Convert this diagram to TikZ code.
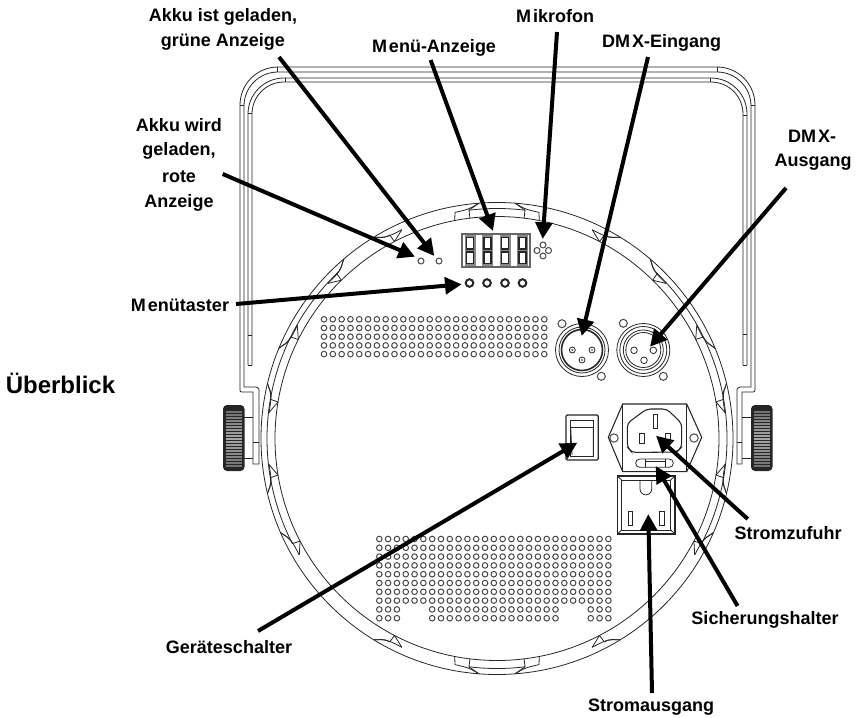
\documentclass[tikz,border=0pt]{standalone}
\usepackage{fontspec}
\setmainfont{Liberation Sans}
\usetikzlibrary{arrows.meta}
\definecolor{ink}{gray}{0.15}
\tikzset{
  x=0.75pt,y=-0.75pt,
  ln/.style={draw=ink,line width=0.6pt},
  hole/.style={draw=ink!85,line width=0.75pt},
  lab/.style={font=\bfseries\fontsize{13.5}{13.5}\selectfont,align=center,inner sep=0pt,text=black},
  pointer/.style={draw=black,line width=3pt,-{Triangle[length=12.5pt,width=12.5pt]}},
}
\newcommand{\htab}[2]{% angle, hook direction
  \pgfmathsetmacro{\aa}{#1}\pgfmathsetmacro{\ss}{#2}
  \pgfmathsetmacro{\pa}{\aa-0.5*\ss}\pgfmathsetmacro{\pb}{\aa-3.5*\ss}\pgfmathsetmacro{\pc}{\aa+3.5*\ss}\pgfmathsetmacro{\pd}{\aa+1*\ss}
  \draw[ln] (\pa:222) -- (\pb:229.5) (\pa:222) -- (\pa+0.3*\ss:230);
  \draw[ln] (\pb:229.5) .. controls (\pd:229) and (\pd:230) .. (\pc:236);
  \draw[ln] (\pa+0.3*\ss:230) .. controls (\pd+1*\ss:230) and (\pd+1*\ss:233) .. (\pc:236);
}
\newcommand{\bigtab}[1]{%
  \pgfmathsetmacro{\aa}{#1}
  \foreach \ss in {-1,1}{
    \draw[ln] (\aa+11*\ss:222) -- (\aa+10.5*\ss:230) .. controls (\aa+7*\ss:231) .. (\aa+4.4*\ss:236);
    \draw[ln] (\aa+7*\ss:222) -- (\aa+7*\ss:230) -- (\aa+4.4*\ss:236);
  }
  \draw[ln] (\aa-7:230) arc[start angle=\aa-7,end angle=\aa+7,radius=230];
}
\begin{document}
\begin{tikzpicture}
\useasboundingbox (0,0) rectangle (856,717);
% ---- bracket
\draw[ln,rounded corners=28.5pt] (240,388) -- (240,67) -- (755,67) -- (755,388);
\draw[ln,rounded corners=25.5pt] (244,387) -- (244,72) -- (751,72) -- (751,387);
\draw[ln,rounded corners=27pt] (248,365) -- (248,78) -- (747,78) -- (747,365);
\draw[ln,rounded corners=24pt] (252,365) -- (252,82) -- (743,82) -- (743,365);
\draw[ln] (248,365) -- (252,365) (248,335) -- (252,335) (743,365) -- (747,365) (743,334) -- (747,334);
\draw[ln] (240,105) -- (244,105) (751,105) -- (755,105) (248,113) -- (252,113) (743,115) -- (747,115) (277,67) -- (277,72) (285,78) -- (285,82) (717,67) -- (717,72) (710,78) -- (710,82);
% feet
\draw[ln] (240,388) .. controls (240,392) .. (244,392) -- (253,392) -- (253,464) -- (259,464) -- (259,392) .. controls (259,388) .. (256,387) -- (244,387);
\draw[ln] (253,442) -- (259,442);
\draw[ln] (755,388) .. controls (755,392) .. (751,392) -- (742,392) -- (742,464) -- (737,464) -- (737,392) .. controls (737,388) .. (740,387) -- (751,387);
\draw[ln] (737,442) -- (742,442);
% posts
\draw[ln] (253,417) -- (244,417) (244,458) -- (253,458);
\draw[ln] (742,417) -- (751,417) (751,458) -- (742,458);
% knobs
\foreach \kx in {223,751}{
  \fill[ink,rounded corners=3] (\kx,405) rectangle ++(21.5,66);
  \foreach \ky in {411,414,...,465}{
    \pgfmathsetmacro{\sh}{60-25*abs(\ky-438)/27}
    \fill[white!\sh!ink] (\kx+3,\ky) rectangle ++(15.5,1.6);
  }
}
% ---- ring
\begin{scope}[shift={(497,438.5)},x=0.75pt,y=0.75pt]
\draw[ln] (0,0) circle[radius=236];
\draw[ln] (0,0) circle[radius=222];
\foreach \st/\en in {134/154,154/170,170/190,190/207,-27/-10,-10/10,10/26,26/46}{
  \draw[ln] (\st:230) arc[start angle=\st,end angle=\en,radius=230];
}
\bigtab{90}
\bigtab{270}
\htab{118}{1}\htab{134}{-1}\htab{154}{1}\htab{170}{-1}\htab{190}{1}\htab{207}{-1}\htab{242}{-1}
\htab{62}{-1}\htab{46}{1}\htab{26}{-1}\htab{10}{1}\htab{-10}{-1}\htab{-27}{1}\htab{-62}{1}
\end{scope}
% ---- grilles
\foreach \i in {0,...,25}{\foreach \j in {0,...,4}{
  \draw[hole] (324+8.81*\i,319.3+8.7*\j) circle[radius=2.8];}}
\foreach \i in {0,...,26}{\foreach \j in {0,...,7}{
  \draw[hole] (379.3+8.81*\i,539+8.8*\j) circle[radius=2.8];}}
\foreach \i in {0,1,2,6,7,...,20,24,25,26}{\foreach \j in {8,9}{
  \draw[hole] (379.3+8.81*\i,539+8.8*\j) circle[radius=2.8];}}
% ---- display
\draw[draw=ink!70,line width=1.1pt] (462,234) rectangle (530,267);
\foreach \dx in {470,487.5,505,522.5}{
  \fill[ink!55] (\dx-5.5,235) rectangle (\dx+5.5,266);
  \draw[draw=ink,line width=1.1pt,fill=white] (\dx-3.5,237.5) rectangle (\dx+3.5,249);
  \draw[draw=ink,line width=1.1pt,fill=white] (\dx-3.5,252) rectangle (\dx+3.5,263.5);
}
% ---- leds, buttons, mic
\draw[hole] (421,261) circle[radius=3];
\draw[hole] (439,261) circle[radius=3];
\foreach \bx in {469.5,487,505,522.5}{\draw[draw=ink,line width=1.5pt] (\bx,283) circle[radius=3.8];}
\foreach \mx/\my in {543/245,537/250.5,548.5/250.5,543/256}{\draw[hole] (\mx,\my) circle[radius=3];}
% ---- XLR in
\draw[ln] (582,350) circle[radius=26.5];
\draw[ln] (582,350) circle[radius=23];
\draw[draw=ink,line width=1.2pt] (582,350) circle[radius=20.5];
\foreach \px/\py in {572.3/350,592/350,582/360}{\draw[ln] (\px,\py) circle[radius=3];\fill[ink!70] (\px,\py) circle[radius=1.2];}
\draw[hole] (562,323.7) circle[radius=4];
\draw[hole] (601.3,376.3) circle[radius=4];
% ---- XLR out
\draw[ln] (643.3,350) circle[radius=26.5];
\draw[ln] (643.3,350) circle[radius=23.5];
\draw[ln] (643.3,350) circle[radius=20];
\draw[ln] (643.3,350) circle[radius=17.5];
\foreach \px/\py in {634/350.3,653.3/350.3,644/360.3}{\draw[ln] (\px,\py) circle[radius=3.3];}
\draw[hole] (623.3,323.3) circle[radius=4];
\draw[hole] (663.3,376.3) circle[radius=4];
% ---- switch
\draw[draw=ink,line width=0.9pt,rounded corners=1] (566,415) rectangle (598.3,460);
\draw[ln] (570.7,420.7) rectangle (593.3,456);
\draw[ln] (570.7,427) -- (593.3,427);
\draw[ln] (570.7,427) -- (572,455) (593.3,427) -- (593.3,456);
% ---- IEC inlet
\draw[draw=ink,line width=0.8pt] (622.7,404) -- (686.7,404) -- (701.7,437.3) -- (686.7,471.7) -- (622.7,471.7) -- (608.3,437.3) -- cycle;
\draw[ln] (622.7,404) -- (622.7,471.7) (686.7,404) -- (686.7,471.7);
\draw[hole] (614,438) circle[radius=4.2];
\draw[hole] (694,438) circle[radius=4.2];
\draw[draw=ink,line width=0.8pt,rounded corners=3] (627.3,423.3) -- (646.7,409) -- (666.7,409) -- (681.7,423.3) -- (681.7,447) -- (677,452) -- (632,452.5) -- (627.3,447) -- cycle;
\draw[ln] (653,414) rectangle (657,428);
\draw[ln] (639.5,433) rectangle (644,443.5);
\draw[ln] (665.5,433) rectangle (670,443.5);
\draw[ln,rounded corners=3] (635.7,459) rectangle (673.3,467.3);
\draw[ln] (645,459) -- (645,467.3) (665,459) -- (665,467.3) (645,461) -- (665,461);
% ---- outlet
\draw[draw=ink,line width=0.8pt] (617.3,476) rectangle (675,534);
\draw[ln] (621.7,480) rectangle (670.7,530);
\draw[ln] (617.3,476) -- (621.7,480) (675,476) -- (670.7,480) (617.3,534) -- (621.7,530) (675,534) -- (670.7,530);
\draw[ln] (640,480) -- (640,489) arc[start angle=180,end angle=0,radius=5.85] -- (651.7,480);
\draw[ln] (628.3,511) rectangle (632.7,525);
\draw[ln] (659,511) rectangle (664,525);
% ---- labels
\node[lab] (l1a) at (223,17) {Akku ist geladen,};
\node[lab] (l1b) at (223,42) {grüne Anzeige};
\node[lab] (l2) at (434,48) {M\kern1.5pt enü-Anzeige};
\node[lab] (l3) at (555,16) {M\kern1.5pt ikrofon};
\node[lab] (l4) at (661.5,43) {DM\kern1.5pt X-Eingang};
\node[lab] (l5a) at (812,136) {DM\kern1.5pt X-};
\node[lab] (l5b) at (813,162) {Ausgang};
\node[lab] (l6a) at (179,125) {Akku wird};
\node[lab] (l6b) at (179,151) {geladen,};
\node[lab] (l6c) at (179,177) {rote};
\node[lab] (l6d) at (179,203) {Anzeige};
\node[lab] (l7) at (180,305) {M\kern1.5pt enütaster};
\node[lab,font=\bfseries\fontsize{18}{18}\selectfont] (l8) at (60.5,383) {Überblick};
\node[lab] (l9) at (229,647) {Geräteschalter};
\node[lab] (l10) at (788,533) {Stromzufuhr};
\node[lab] (l11) at (765,620) {Sicherungshalter};
\node[lab] (l12) at (651,707) {Stromausgang};
% ---- pointers
\coordinate (s1) at (279,57);   \coordinate (t1) at (434.3,256);
\coordinate (s2) at (430.6,60); \coordinate (t2) at (493,231);
\coordinate (s3) at (557,32);   \coordinate (t3) at (542.7,239);
\coordinate (s4) at (648,57);   \coordinate (t4) at (581.7,336);
\coordinate (s5) at (786,188);  \coordinate (t5) at (650,346.7);
\coordinate (s6) at (222.7,174);\coordinate (t6) at (415,256.7);
\coordinate (s7) at (236,304);  \coordinate (t7) at (461.7,284.3);
\coordinate (s9) at (258,631);  \coordinate (t9) at (577.3,442.7);
\coordinate (s10) at (747.7,519);\coordinate (t10) at (656,435.7);
\coordinate (s11) at (737.6,606); \coordinate (t11) at (655.7,466);
\coordinate (s12) at (652,693); \coordinate (t12) at (648.3,514);
\foreach \n in {1,2,3,4,5,6,7,9,10,11,12}{\draw[pointer] (s\n) -- (t\n);}
\end{tikzpicture}
\end{document}
